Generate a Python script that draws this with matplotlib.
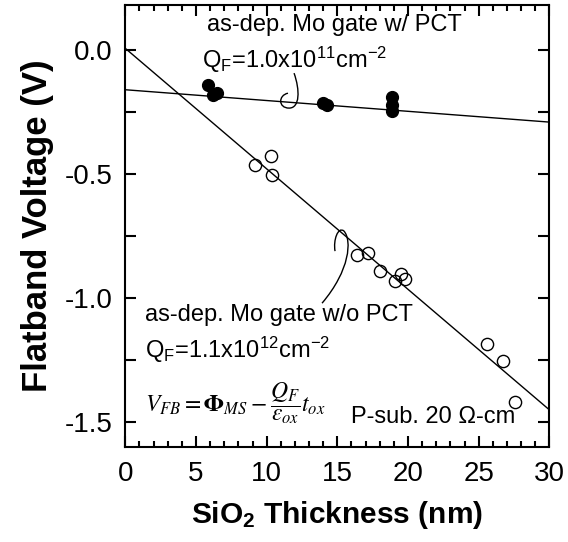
import numpy as np
import matplotlib
matplotlib.use('Agg')
import matplotlib.pyplot as plt
from matplotlib.ticker import MultipleLocator
from matplotlib.path import Path
from matplotlib.patches import PathPatch

plt.rcParams['font.family'] = ['Liberation Sans', 'DejaVu Sans']
plt.rcParams['mathtext.fontset'] = 'custom'
plt.rcParams['mathtext.rm'] = 'Liberation Sans'
plt.rcParams['mathtext.it'] = 'Liberation Sans:italic'
plt.rcParams['mathtext.bf'] = 'Liberation Sans:bold'

# data: tebal SiO2 (nm) dan tegangan flatband (V)
x_pct = np.array([5.87, 6.23, 6.47, 14.0, 14.3, 18.9, 18.9, 18.9])
y_pct = np.array([-0.14, -0.18, -0.175, -0.215, -0.222, -0.19, -0.22, -0.245])

x_nopct = np.array([9.18, 10.29, 10.4, 16.38, 17.2, 18.03, 19.1, 19.5, 19.8, 25.62, 26.75, 27.58])
y_nopct = np.array([-0.464, -0.428, -0.504, -0.827, -0.82, -0.892, -0.93, -0.905, -0.925,
                    -1.184, -1.254, -1.419])

# garis fit (intercept, slope)
fit_pct = (-0.160, -0.00435)
fit_nopct = (0.007, -0.0486)

fig = plt.figure(figsize=(5.68, 5.42), dpi=100)
ax = fig.add_axes([0.2206, 0.1758, 0.7465, 0.8155])

xl = np.array([0, 30])
ax.plot(xl, fit_pct[0] + fit_pct[1] * xl, color='black', lw=1)
ax.plot(xl, fit_nopct[0] + fit_nopct[1] * xl, color='black', lw=1)

ax.plot(x_pct, y_pct, 'o', ms=8.5, mfc='black', mec='black', mew=1)
ax.plot(x_nopct, y_nopct, 'o', ms=8.8, mfc='none', mec='black', mew=1)

ax.set_xlim(0, 30)
ax.set_ylim(-1.6, 0.183)

ax.xaxis.set_major_locator(MultipleLocator(5))
ax.xaxis.set_minor_locator(MultipleLocator(1))
ax.yaxis.set_major_locator(MultipleLocator(0.5))
ax.yaxis.set_minor_locator(MultipleLocator(0.25))
ax.yaxis.set_major_formatter(plt.FuncFormatter(lambda v, p: '%.1f' % v))
ax.tick_params(which='both', direction='in', top=True, right=True, width=1.5, labelsize=20)
ax.tick_params(axis='x', which='major', length=8, pad=10)
ax.tick_params(axis='x', which='minor', length=4.5)
ax.tick_params(axis='y', which='both', length=8, pad=9)
for s in ax.spines.values():
    s.set_linewidth(1.5)

ax.set_xlabel(r'SiO$_\mathbf{2}$ Thickness (nm)', fontsize=21.5, fontweight='bold', labelpad=9)
ax.set_ylabel('Flatband Voltage (V)', fontsize=25, fontweight='bold', labelpad=8)

# teks
ax.text(14.8, 0.1, 'as-dep. Mo gate w/ PCT', fontsize=17, ha='center', va='center')
ax.text(5.43, -0.04, r'Q$_\mathregular{F}$=1.0x10$^\mathregular{11}$cm$^\mathregular{-2}$',
        fontsize=17, ha='left', va='center')
ax.text(1.4, -1.07, 'as-dep. Mo gate w/o PCT', fontsize=17, ha='left', va='center')
ax.text(1.4, -1.21, r'Q$_\mathregular{F}$=1.1x10$^\mathregular{12}$cm$^\mathregular{-2}$',
        fontsize=17, ha='left', va='center')
ax.text(1.4, -1.425, r'$V_{FB} = \mathbf{\Phi}_{MS} - \dfrac{Q_F}{\varepsilon_{ox}}t_{ox}$',
        fontsize=17, ha='left', va='center', math_fontfamily='stix')
ax.text(27.6, -1.48, 'P-sub. 20 Ω-cm', fontsize=17, ha='right', va='center')

# garis penunjuk (lengkung)
C4 = Path.CURVE4
curl1 = Path([(11.94, -0.093), (12.36, -0.161), (12.36, -0.234), (11.59, -0.234),
              (10.81, -0.234), (10.81, -0.182), (11.51, -0.174)],
             [Path.MOVETO, C4, C4, C4, C4, C4, C4])
curl2 = Path([(13.92, -1.021), (15.9, -0.888), (16.04, -0.767), (15.47, -0.730),
              (15.05, -0.710), (14.7, -0.767), (14.84, -0.811)],
             [Path.MOVETO, C4, C4, C4, C4, C4, C4])
for p in (curl1, curl2):
    ax.add_patch(PathPatch(p, fc='none', ec='black', lw=1))

fig.savefig('out.png', dpi=100)
